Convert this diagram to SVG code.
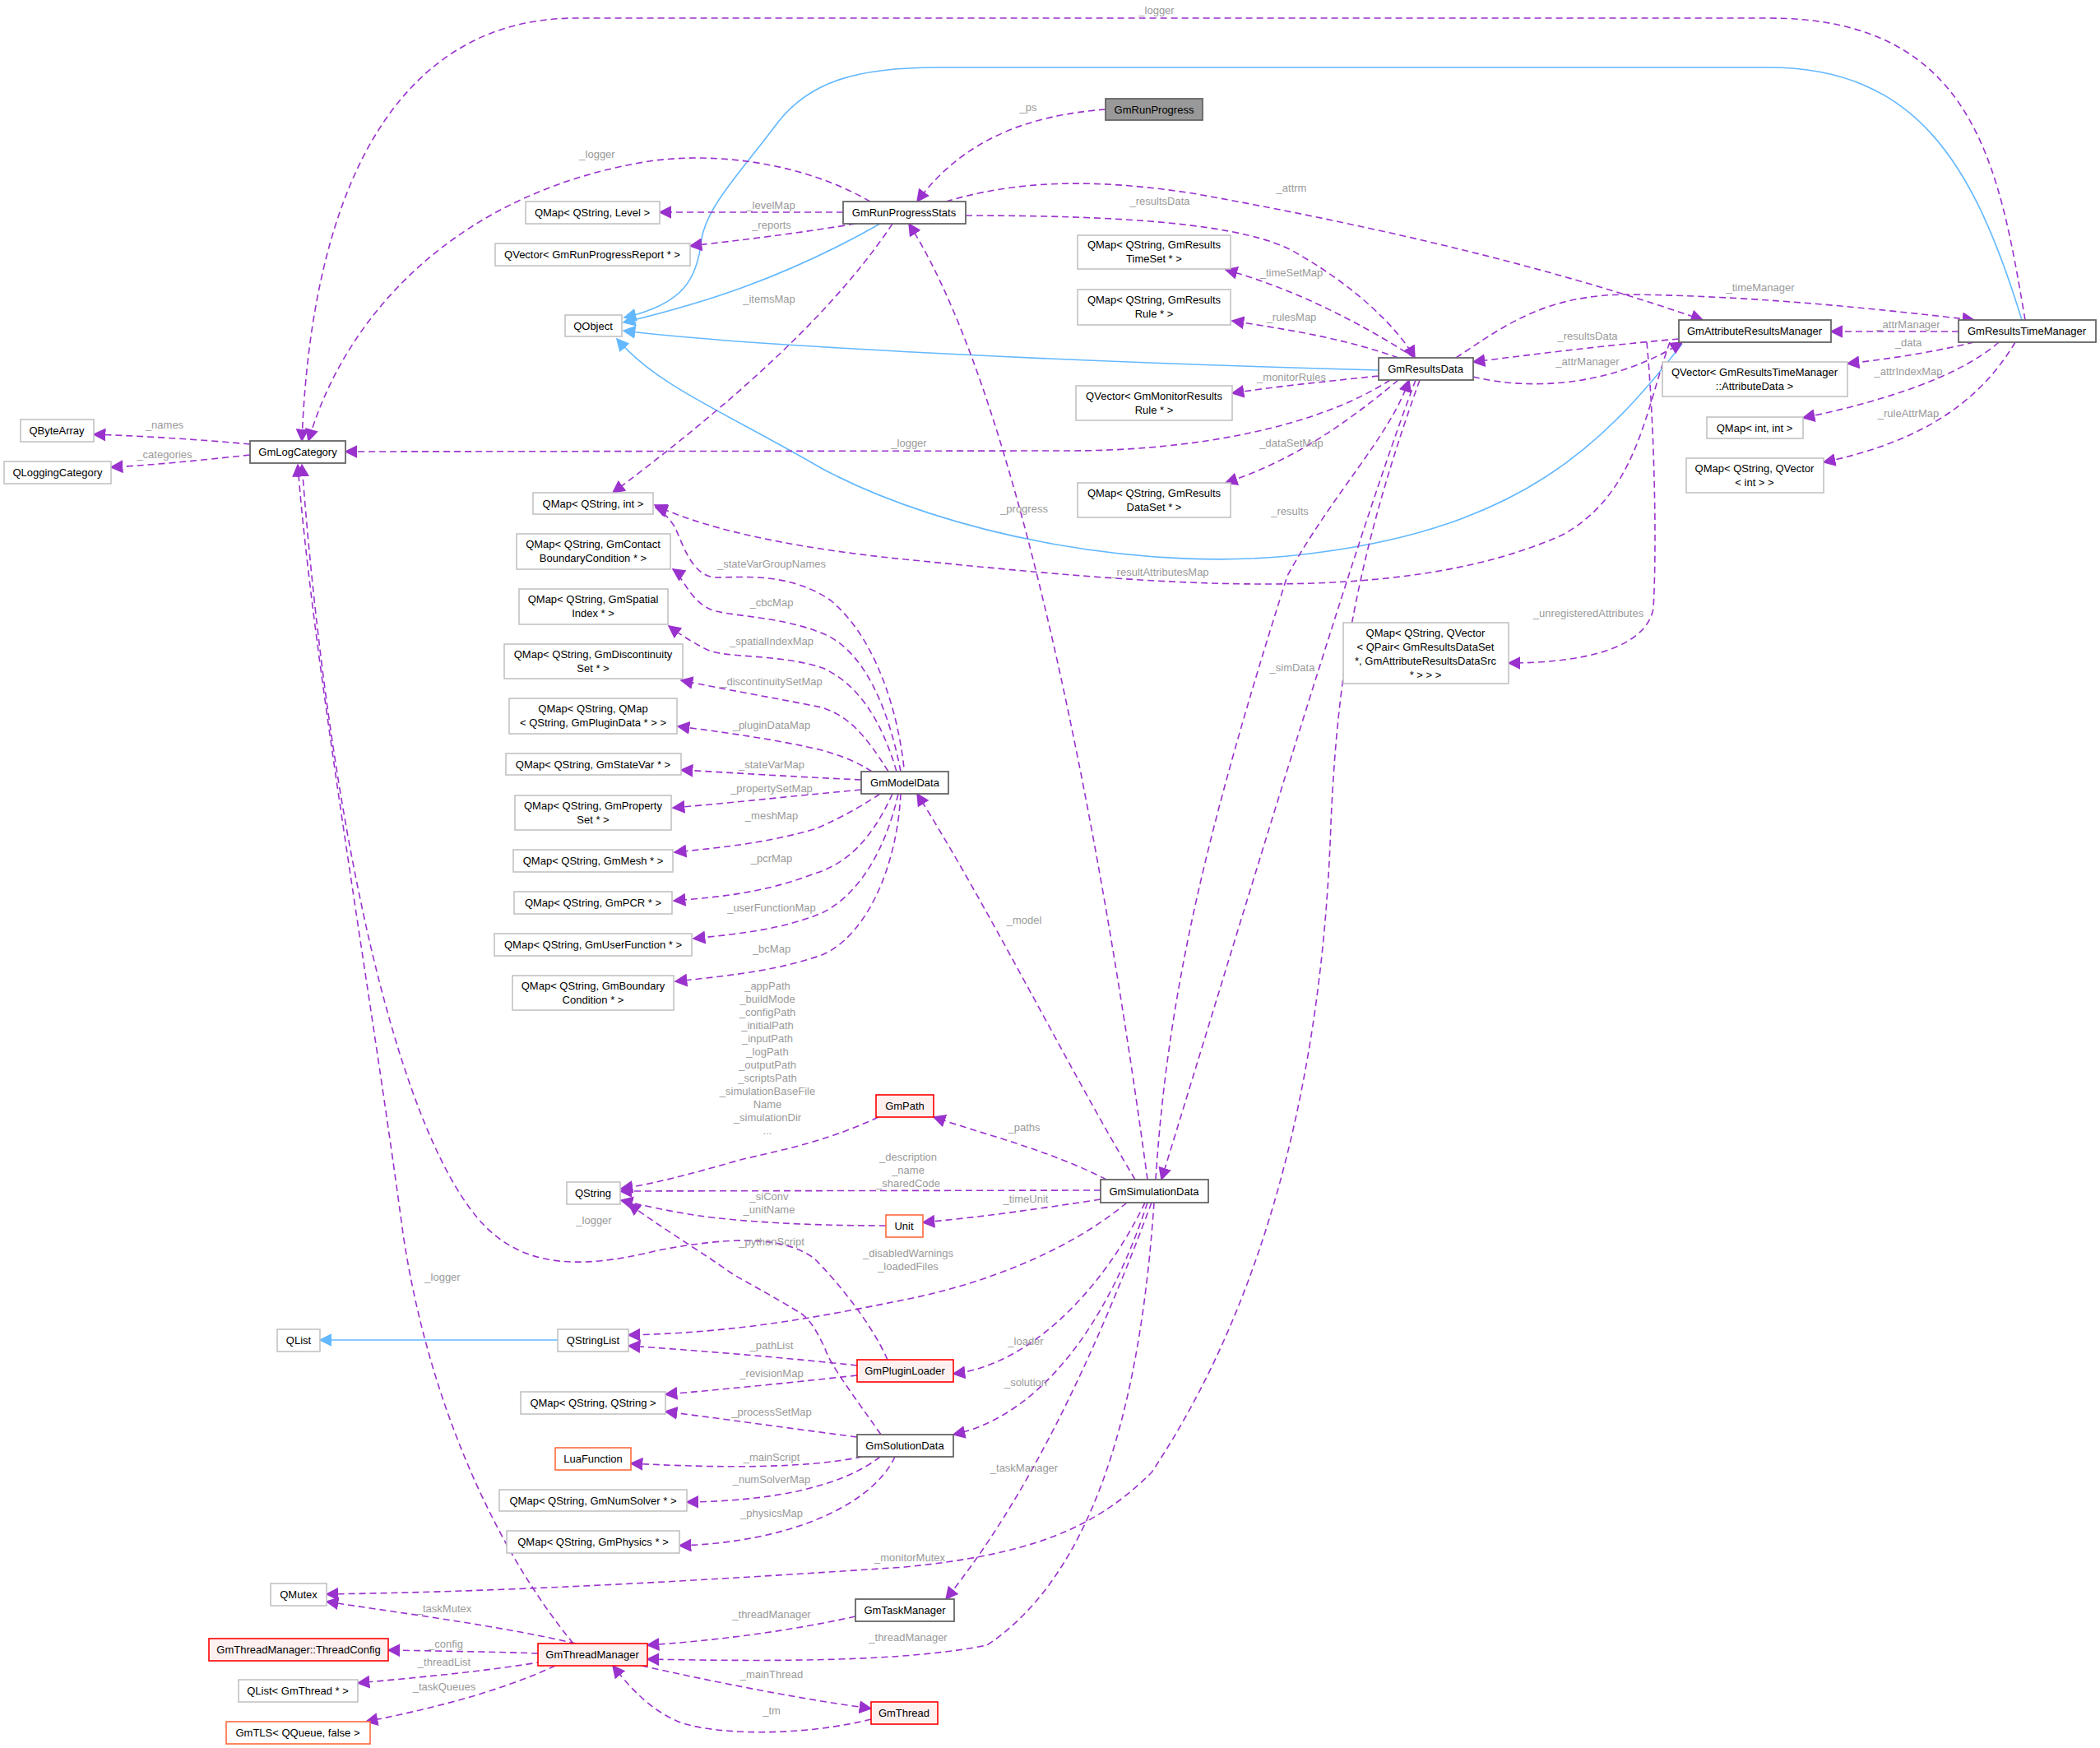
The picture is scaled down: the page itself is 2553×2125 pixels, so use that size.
<svg xmlns="http://www.w3.org/2000/svg" width="2553" height="2125" viewBox="0 0 2553 2125">
<style>
.n rect{fill:#fff;stroke:#bfbfbf;stroke-width:1.5}
.n.d rect{stroke:#666;stroke-width:1.8}
.n.r rect{fill:#fff0f0;stroke:#f00;stroke-width:1.6}
.n.o rect{fill:#fff;stroke:#ff6a3d;stroke-width:1.6}
.n.g rect{fill:#999;stroke:#666;stroke-width:1.8}
text{font-family:"Liberation Sans",Arial,sans-serif;font-size:13px;text-anchor:middle;fill:#000}
.l{fill:#9a9a9a;font-size:13px}
.e path{fill:none;stroke:#9a32cd;stroke-width:1.6;stroke-dasharray:8,5;marker-end:url(#p)}
.e path.b{stroke:#63b8ff;stroke-dasharray:none;marker-end:url(#b)}
</style>
<defs>
<marker id="p" viewBox="0 0 10 10" refX="9" refY="5" markerWidth="16" markerHeight="16" markerUnits="userSpaceOnUse" orient="auto"><path d="M0,0L10,5L0,10z" fill="#9a32cd"/></marker>
<marker id="b" viewBox="0 0 10 10" refX="9" refY="5" markerWidth="16" markerHeight="16" markerUnits="userSpaceOnUse" orient="auto"><path d="M0,0L10,5L0,10z" fill="#63b8ff"/></marker>
</defs>
<rect width="2553" height="2125" fill="#fff"/>
<g class="e" id="edges">
<path d="M2462,389 C2430,200 2400,22 2150,22 L700,22 C500,22 380,200 367,536"/>
<path class="b" d="M2458,389 C2400,200 2330,82 2150,82 L1140,82 C1040,82 985,100 947,147 C900,210 860,250 853,290 C848,340 830,370 759,386"/>
<path class="b" d="M1070,272 C950,340 850,370 758,392"/>
<path class="b" d="M1676,450 C1300,440 900,420 758,402"/>
<path class="b" d="M2045,418 C1950,540 1850,640 1600,672 C1400,700 1150,650 1000,570 C880,500 800,470 750,412"/>
<path d="M1344,133 C1250,140 1170,170 1115,245"/>
<path d="M1058,245 C980,200 880,185 796,195 C560,230 420,380 375,536"/>
<path d="M1025,258 L802,258"/>
<path d="M1040,272 C960,285 900,292 839,299"/>
<path d="M1085,272 C1000,400 850,520 745,599"/>
<path d="M1150,245 C1250,215 1350,220 1450,235 C1700,280 1900,330 2070,389"/>
<path d="M1174,262 C1350,262 1520,270 1580,310 C1650,350 1700,400 1720,435"/>
<path d="M1395,1434 C1350,1100 1250,500 1105,272"/>
<path d="M1720,435 C1650,390 1570,350 1490,328"/>
<path d="M1700,435 C1630,410 1560,400 1498,390"/>
<path d="M1676,457 C1600,465 1550,470 1498,478"/>
<path d="M1700,462 C1630,520 1570,560 1490,587"/>
<path d="M1690,462 C1600,520 1450,548 1300,548 L420,549"/>
<path d="M1770,435 C1830,395 1880,358 1980,358 C2150,360 2300,378 2400,389"/>
<path d="M2041,412 C1950,420 1870,430 1791,440"/>
<path d="M1791,458 C1860,475 1960,470 2045,416"/>
<path d="M2381,403 L2226,403"/>
<path d="M2400,416 C2350,428 2300,436 2246,442"/>
<path d="M2430,416 C2380,460 2280,490 2192,508"/>
<path d="M2450,416 C2400,500 2320,540 2217,562"/>
<path d="M2030,416 C2000,500 1990,600 1900,650 C1700,740 1400,710 1100,680 C950,665 850,640 796,614"/>
<path d="M2002,416 C2010,500 2015,650 2010,740 C2000,790 1920,806 1834,806"/>
<path d="M1405,1434 C1420,1200 1470,1000 1565,700 C1620,600 1690,530 1713,462"/>
<path d="M1721,462 C1650,650 1530,1050 1412,1434"/>
<path d="M1100,945 C1095,880 1070,780 1010,730 C960,695 900,702 870,702 C840,700 830,660 820,640 C810,625 800,618 797,617"/>
<path d="M1095,938 C1080,860 1050,790 1000,770 C950,750 900,750 870,743 C840,735 830,700 818,692"/>
<path d="M1090,938 C1070,870 1040,830 1000,812 C950,795 880,800 860,790 C840,780 825,770 813,761"/>
<path d="M1080,938 C1050,890 1030,870 999,860 C950,850 880,838 828,827"/>
<path d="M1060,938 C1040,925 1020,918 999,912 C950,900 880,890 824,883"/>
<path d="M1047,948 C960,944 900,940 828,936"/>
<path d="M1047,960 C960,968 900,975 818,982"/>
<path d="M1070,965 C1040,985 1010,1000 990,1008 C930,1025 880,1030 820,1036"/>
<path d="M1085,965 C1060,1020 1030,1050 990,1062 C930,1085 880,1090 819,1095"/>
<path d="M1092,965 C1075,1040 1040,1090 999,1110 C950,1130 900,1135 843,1141"/>
<path d="M1095,965 C1090,1060 1050,1140 999,1161 C950,1178 900,1185 821,1193"/>
<path d="M1380,1434 C1300,1300 1200,1100 1115,965"/>
<path d="M1345,1434 C1280,1400 1200,1380 1135,1358"/>
<path d="M1068,1358 C1000,1390 940,1400 900,1410 C830,1430 790,1440 755,1445"/>
<path d="M1338,1447 L754,1448"/>
<path d="M1077,1490 C980,1490 900,1485 850,1478 C810,1472 780,1465 755,1459"/>
<path d="M1338,1458 C1260,1470 1190,1480 1122,1486"/>
<path d="M1370,1462 C1300,1520 1200,1560 1100,1580 C1000,1600 900,1620 764,1623"/>
<path d="M1079,1653 C1060,1610 1020,1560 990,1530 C950,1500 880,1505 800,1520 C700,1545 630,1540 580,1480 C480,1360 400,1000 367,565"/>
<path d="M1071,1744 C1040,1700 1010,1660 1004,1642 C990,1610 980,1600 971,1595 C930,1570 900,1555 888,1547 C850,1520 800,1490 764,1463"/>
<path d="M697,1998 C600,1880 520,1700 490,1500 C450,1200 380,800 362,565"/>
<path class="b" d="M678,1629 L389,1629"/>
<path d="M1042,1660 C950,1650 850,1642 764,1636"/>
<path d="M1042,1672 C950,1682 870,1690 809,1695"/>
<path d="M1392,1462 C1340,1570 1250,1660 1159,1670"/>
<path d="M1042,1747 C950,1735 880,1725 809,1716"/>
<path d="M1048,1771 C980,1785 880,1785 767,1779"/>
<path d="M1070,1771 C1020,1810 930,1825 835,1826"/>
<path d="M1088,1771 C1060,1830 960,1875 826,1879"/>
<path d="M1395,1462 C1350,1600 1270,1720 1159,1744"/>
<path d="M1400,1462 C1330,1650 1250,1820 1150,1944"/>
<path d="M1403,1462 C1390,1650 1350,1900 1200,2000 C1100,2020 950,2020 787,2017"/>
<path d="M1726,462 C1640,700 1625,850 1618,1000 C1610,1250 1560,1550 1400,1790 C1330,1860 1250,1890 1100,1905 C800,1925 600,1935 397,1938"/>
<path d="M700,1998 C600,1975 480,1960 397,1947"/>
<path d="M654,2010 C600,2008 530,2007 472,2006"/>
<path d="M660,2020 C590,2032 500,2040 435,2046"/>
<path d="M675,2025 C600,2060 510,2080 445,2093"/>
<path d="M1040,1965 C950,1985 860,1995 787,2000"/>
<path d="M780,2025 C870,2045 970,2065 1059,2077"/>
<path d="M1059,2090 C980,2110 880,2110 830,2095 C790,2080 765,2050 745,2025"/>
<path d="M304,540 C240,534 170,530 114,528"/>
<path d="M304,553 C240,560 190,565 135,568"/>
</g>
<g id="labels">
<text class="l" x="1406" y="17">_logger</text>
<text class="l" x="1250" y="135">_ps</text>
<text class="l" x="726" y="192">_logger</text>
<text class="l" x="937" y="254">_levelMap</text>
<text class="l" x="938" y="278">_reports</text>
<text class="l" x="935" y="368">_itemsMap</text>
<text class="l" x="1570" y="233">_attrm</text>
<text class="l" x="1410" y="249">_resultsData</text>
<text class="l" x="1245" y="623">_progress</text>
<text class="l" x="1570" y="336">_timeSetMap</text>
<text class="l" x="1570" y="390">_rulesMap</text>
<text class="l" x="1570" y="463">_monitorRules</text>
<text class="l" x="1570" y="543">_dataSetMap</text>
<text class="l" x="1105" y="543">_logger</text>
<text class="l" x="2140" y="354">_timeManager</text>
<text class="l" x="1930" y="413">_resultsData</text>
<text class="l" x="1930" y="444">_attrManager</text>
<text class="l" x="2320" y="399">_attrManager</text>
<text class="l" x="2320" y="421">_data</text>
<text class="l" x="2320" y="456">_attrIndexMap</text>
<text class="l" x="2320" y="507">_ruleAttrMap</text>
<text class="l" x="1410" y="700">_resultAttributesMap</text>
<text class="l" x="1931" y="750">_unregisteredAttributes</text>
<text class="l" x="1568" y="626">_results</text>
<text class="l" x="1571" y="816">_simData</text>
<text class="l" x="938" y="690">_stateVarGroupNames</text>
<text class="l" x="938" y="737">_cbcMap</text>
<text class="l" x="938" y="784">_spatialIndexMap</text>
<text class="l" x="938" y="833">_discontinuitySetMap</text>
<text class="l" x="938" y="886">_pluginDataMap</text>
<text class="l" x="938" y="934">_stateVarMap</text>
<text class="l" x="938" y="963">_propertySetMap</text>
<text class="l" x="938" y="996">_meshMap</text>
<text class="l" x="938" y="1048">_pcrMap</text>
<text class="l" x="938" y="1108">_userFunctionMap</text>
<text class="l" x="938" y="1158">_bcMap</text>
<text class="l" x="1245" y="1123">_model</text>
<text class="l" x="1245" y="1375">_paths</text>
<text class="l" x="933" y="1203">_appPath</text>
<text class="l" x="933" y="1219">_buildMode</text>
<text class="l" x="933" y="1235">_configPath</text>
<text class="l" x="933" y="1251">_initialPath</text>
<text class="l" x="933" y="1267">_inputPath</text>
<text class="l" x="933" y="1283">_logPath</text>
<text class="l" x="933" y="1299">_outputPath</text>
<text class="l" x="933" y="1315">_scriptsPath</text>
<text class="l" x="933" y="1331">_simulationBaseFile</text>
<text class="l" x="933" y="1347">Name</text>
<text class="l" x="933" y="1363">_simulationDir</text>
<text class="l" x="933" y="1379">...</text>
<text class="l" x="1104" y="1411">_description</text>
<text class="l" x="1104" y="1427">_name</text>
<text class="l" x="1104" y="1443">_sharedCode</text>
<text class="l" x="935" y="1459">_siConv</text>
<text class="l" x="935" y="1475">_unitName</text>
<text class="l" x="1247" y="1462">_timeUnit</text>
<text class="l" x="1104" y="1528">_disabledWarnings</text>
<text class="l" x="1104" y="1544">_loadedFiles</text>
<text class="l" x="722" y="1488">_logger</text>
<text class="l" x="938" y="1514">_pythonScript</text>
<text class="l" x="538" y="1557">_logger</text>
<text class="l" x="938" y="1640">_pathList</text>
<text class="l" x="938" y="1674">_revisionMap</text>
<text class="l" x="1247" y="1635">_loader</text>
<text class="l" x="938" y="1721">_processSetMap</text>
<text class="l" x="938" y="1776">_mainScript</text>
<text class="l" x="938" y="1803">_numSolverMap</text>
<text class="l" x="938" y="1844">_physicsMap</text>
<text class="l" x="1247" y="1685">_solution</text>
<text class="l" x="1245" y="1789">_taskManager</text>
<text class="l" x="1104" y="1995">_threadManager</text>
<text class="l" x="1106" y="1898">_monitorMutex</text>
<text class="l" x="540" y="1960">_taskMutex</text>
<text class="l" x="542" y="2003">_config</text>
<text class="l" x="540" y="2025">_threadList</text>
<text class="l" x="540" y="2055">_taskQueues</text>
<text class="l" x="938" y="1967">_threadManager</text>
<text class="l" x="938" y="2040">_mainThread</text>
<text class="l" x="938" y="2084">_tm</text>
<text class="l" x="200" y="521">_names</text>
<text class="l" x="200" y="557">_categories</text>
</g>
<g id="GmRunProgress" class="n g"><rect x="1344" y="120" width="118" height="26"/><text x="1403" y="138">GmRunProgress</text></g>
<g id="GmRunProgressStats" class="n d"><rect x="1025" y="245" width="149" height="27"/><text x="1099" y="263">GmRunProgressStats</text></g>
<g id="QMapLevel" class="n"><rect x="639" y="245" width="163" height="27"/><text x="720" y="263">QMap&lt; QString, Level &gt;</text></g>
<g id="QVectorReport" class="n"><rect x="602" y="296" width="237" height="27"/><text x="720" y="314">QVector&lt; GmRunProgressReport * &gt;</text></g>
<g id="QObject" class="n"><rect x="687" y="383" width="69" height="26"/><text x="721" y="401">QObject</text></g>
<g id="QByteArray" class="n"><rect x="25" y="510" width="89" height="27"/><text x="69" y="528">QByteArray</text></g>
<g id="GmLogCategory" class="n d"><rect x="304" y="536" width="116" height="27"/><text x="362" y="554">GmLogCategory</text></g>
<g id="QLoggingCategory" class="n"><rect x="5" y="561" width="130" height="27"/><text x="70" y="579">QLoggingCategory</text></g>
<g id="QMapInt" class="n"><rect x="648" y="599" width="146" height="26"/><text x="721" y="617">QMap&lt; QString, int &gt;</text></g>
<g id="QMapContact" class="n"><rect x="628" y="649" width="187" height="43"/><text x="721" y="666">QMap&lt; QString, GmContact</text><text x="721" y="683">BoundaryCondition * &gt;</text></g>
<g id="QMapSpatial" class="n"><rect x="631" y="716" width="181" height="43"/><text x="721" y="733">QMap&lt; QString, GmSpatial</text><text x="721" y="750">Index * &gt;</text></g>
<g id="QMapDiscontinuity" class="n"><rect x="613" y="783" width="217" height="42"/><text x="721" y="800">QMap&lt; QString, GmDiscontinuity</text><text x="721" y="817">Set * &gt;</text></g>
<g id="QMapPluginData" class="n"><rect x="619" y="849" width="204" height="43"/><text x="721" y="866">QMap&lt; QString, QMap</text><text x="721" y="883">&lt; QString, GmPluginData * &gt; &gt;</text></g>
<g id="QMapStateVar" class="n"><rect x="615" y="916" width="213" height="26"/><text x="721" y="934">QMap&lt; QString, GmStateVar * &gt;</text></g>
<g id="QMapProperty" class="n"><rect x="626" y="967" width="190" height="42"/><text x="721" y="984">QMap&lt; QString, GmProperty</text><text x="721" y="1001">Set * &gt;</text></g>
<g id="QMapMesh" class="n"><rect x="624" y="1033" width="194" height="27"/><text x="721" y="1051">QMap&lt; QString, GmMesh * &gt;</text></g>
<g id="QMapPCR" class="n"><rect x="625" y="1084" width="192" height="27"/><text x="721" y="1102">QMap&lt; QString, GmPCR * &gt;</text></g>
<g id="QMapUserFunction" class="n"><rect x="601" y="1135" width="240" height="27"/><text x="721" y="1153">QMap&lt; QString, GmUserFunction * &gt;</text></g>
<g id="QMapBoundary" class="n"><rect x="623" y="1186" width="196" height="42"/><text x="721" y="1203">QMap&lt; QString, GmBoundary</text><text x="721" y="1220">Condition * &gt;</text></g>
<g id="GmModelData" class="n d"><rect x="1047" y="938" width="106" height="27"/><text x="1100" y="956">GmModelData</text></g>
<g id="QMapTimeSet" class="n"><rect x="1310" y="286" width="186" height="41"/><text x="1403" y="302">QMap&lt; QString, GmResults</text><text x="1403" y="319">TimeSet * &gt;</text></g>
<g id="QMapRule" class="n"><rect x="1310" y="352" width="186" height="43"/><text x="1403" y="369">QMap&lt; QString, GmResults</text><text x="1403" y="386">Rule * &gt;</text></g>
<g id="GmResultsData" class="n d"><rect x="1676" y="435" width="115" height="27"/><text x="1733" y="453">GmResultsData</text></g>
<g id="QVectorMonitor" class="n"><rect x="1308" y="469" width="190" height="42"/><text x="1403" y="486">QVector&lt; GmMonitorResults</text><text x="1403" y="503">Rule * &gt;</text></g>
<g id="QMapDataSet" class="n"><rect x="1310" y="587" width="186" height="42"/><text x="1403" y="604">QMap&lt; QString, GmResults</text><text x="1403" y="621">DataSet * &gt;</text></g>
<g id="GmAttributeResultsManager" class="n d"><rect x="2041" y="389" width="185" height="27"/><text x="2133" y="407">GmAttributeResultsManager</text></g>
<g id="GmResultsTimeManager" class="n d"><rect x="2381" y="389" width="167" height="27"/><text x="2464" y="407">GmResultsTimeManager</text></g>
<g id="QVectorAttributeData" class="n"><rect x="2021" y="440" width="225" height="42"/><text x="2133" y="457">QVector&lt; GmResultsTimeManager</text><text x="2133" y="474">::AttributeData &gt;</text></g>
<g id="QMapIntInt" class="n"><rect x="2075" y="507" width="117" height="26"/><text x="2133" y="525">QMap&lt; int, int &gt;</text></g>
<g id="QMapQVectorInt" class="n"><rect x="2050" y="557" width="167" height="42"/><text x="2133" y="574">QMap&lt; QString, QVector</text><text x="2133" y="591">&lt; int &gt; &gt;</text></g>
<g id="QMapQPair" class="n"><rect x="1633" y="757" width="201" height="74"/><text x="1733" y="774">QMap&lt; QString, QVector</text><text x="1733" y="791">&lt; QPair&lt; GmResultsDataSet</text><text x="1733" y="808">*, GmAttributeResultsDataSrc</text><text x="1733" y="825">* &gt; &gt; &gt;</text></g>
<g id="GmPath" class="n r"><rect x="1065" y="1331" width="70" height="27"/><text x="1100" y="1349">GmPath</text></g>
<g id="QString" class="n"><rect x="689" y="1437" width="65" height="27"/><text x="721" y="1455">QString</text></g>
<g id="GmSimulationData" class="n d"><rect x="1338" y="1434" width="131" height="28"/><text x="1403" y="1453">GmSimulationData</text></g>
<g id="Unit" class="n o"><rect x="1077" y="1477" width="45" height="27"/><text x="1099" y="1495">Unit</text></g>
<g id="QList" class="n"><rect x="337" y="1616" width="52" height="27"/><text x="363" y="1634">QList</text></g>
<g id="QStringList" class="n"><rect x="678" y="1616" width="86" height="27"/><text x="721" y="1634">QStringList</text></g>
<g id="GmPluginLoader" class="n r"><rect x="1042" y="1653" width="117" height="27"/><text x="1100" y="1671">GmPluginLoader</text></g>
<g id="QMapQStringQString" class="n"><rect x="633" y="1692" width="176" height="27"/><text x="721" y="1710">QMap&lt; QString, QString &gt;</text></g>
<g id="GmSolutionData" class="n d"><rect x="1042" y="1744" width="117" height="27"/><text x="1100" y="1762">GmSolutionData</text></g>
<g id="LuaFunction" class="n o"><rect x="675" y="1760" width="92" height="27"/><text x="721" y="1778">LuaFunction</text></g>
<g id="QMapNumSolver" class="n"><rect x="607" y="1811" width="228" height="26"/><text x="721" y="1829">QMap&lt; QString, GmNumSolver * &gt;</text></g>
<g id="QMapPhysics" class="n"><rect x="616" y="1861" width="210" height="27"/><text x="721" y="1879">QMap&lt; QString, GmPhysics * &gt;</text></g>
<g id="QMutex" class="n"><rect x="329" y="1925" width="68" height="27"/><text x="363" y="1943">QMutex</text></g>
<g id="GmTaskManager" class="n d"><rect x="1040" y="1944" width="120" height="27"/><text x="1100" y="1962">GmTaskManager</text></g>
<g id="GmThreadManager" class="n r"><rect x="654" y="1998" width="133" height="27"/><text x="720" y="2016">GmThreadManager</text></g>
<g id="ThreadConfig" class="n r"><rect x="254" y="1992" width="218" height="27"/><text x="363" y="2010">GmThreadManager::ThreadConfig</text></g>
<g id="QListThread" class="n"><rect x="290" y="2042" width="145" height="27"/><text x="362" y="2060">QList&lt; GmThread * &gt;</text></g>
<g id="GmTLS" class="n o"><rect x="275" y="2093" width="175" height="27"/><text x="362" y="2111">GmTLS&lt; QQueue, false &gt;</text></g>
<g id="GmThread" class="n r"><rect x="1059" y="2069" width="81" height="27"/><text x="1099" y="2087">GmThread</text></g>
</svg>
